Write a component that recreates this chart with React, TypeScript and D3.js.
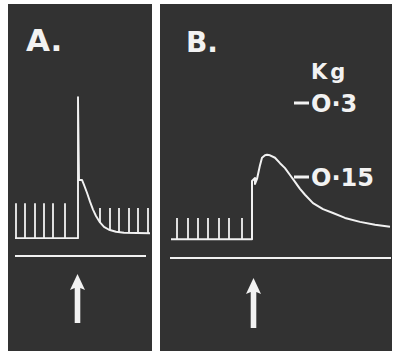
import React from "react";
import * as d3 from "d3";

// time in s, force in kg
const pulsesA = [0.2, 1.1, 2.1, 3.0, 3.9, 5.1];
const pulsesAPost = [8.6, 9.6, 10.5, 11.5, 12.4, 13.4];
const stimA = 6.4;
const traceA: [number, number][] = [
  [0.1, 0.026], [6.4, 0.026], [6.4, 0.312], [6.5, 0.144], [6.8, 0.144],
  [7.0, 0.134], [7.3, 0.118], [7.6, 0.100], [7.9, 0.084], [8.2, 0.071],
  [8.6, 0.058], [9.0, 0.049], [9.5, 0.043], [10.2, 0.039], [11.0, 0.037],
  [13.6, 0.036],
];

const pulsesB = [0.9, 2.0, 3.0, 4.0, 5.1, 6.1, 7.4];
const stimB = 8.4;
const traceB: [number, number][] = [
  [0.3, 0.024], [8.4, 0.024], [8.4, 0.142], [8.7, 0.148], [8.7, 0.136],
  [8.9, 0.146], [9.2, 0.174], [9.4, 0.189], [9.7, 0.194], [9.9, 0.195],
  [10.2, 0.194], [10.7, 0.189], [11.2, 0.178], [11.7, 0.168], [12.2, 0.154],
  [12.7, 0.140], [13.2, 0.126], [13.7, 0.114], [14.5, 0.097], [15.5, 0.085],
  [16.5, 0.077], [17.7, 0.067], [19.2, 0.059], [20.7, 0.053], [22.2, 0.049],
];

const pulseTopPre = 0.097;
const pulseTopPost = 0.087;
const pulseTopB = 0.067;
const kgTicks = [0.3, 0.15];
const kgTickLabels = ["O·3", "O·15"];

const W = 394;
const H = 354;
const BG = "#323232";
const FG = "#f2f2f2";
const FONT = "'DejaVu Sans', sans-serif";

const y = d3.scaleLinear().domain([0, 0.3]).range([251, 103]);
const xA = d3.scaleLinear().domain([0, 14]).range([14, 154]);
const xB = d3.scaleLinear().domain([0, 22.2]).range([168, 390]);

const line = (x: d3.ScaleLinear<number, number>) =>
  d3.line<[number, number]>().x((d) => x(d[0])).y((d) => y(d[1]));

// level of the trace at time t (after the stimulus)
const levelAt = (trace: [number, number][], t: number) => {
  for (let i = 1; i < trace.length; i++) {
    const [t0, v0] = trace[i - 1];
    const [t1, v1] = trace[i];
    if (t >= t0 && t <= t1 && t1 > t0) return v0 + ((t - t0) / (t1 - t0)) * (v1 - v0);
  }
  return trace[trace.length - 1][1];
};

const Arrow = ({ cx, top, bottom }: { cx: number; top: number; bottom: number }) => {
  const hw = 7.5, sw = 2.8, hh = 16;
  const d = `M${cx},${top} L${cx + hw},${top + hh} L${cx + sw},${top + hh - 2} L${cx + sw},${bottom} L${cx - sw},${bottom} L${cx - sw},${top + hh - 2} L${cx - hw},${top + hh} Z`;
  return <path d={d} fill={FG} />;
};

export default function App() {
  const postStart = traceA.findIndex((d) => d[0] > stimA);
  const decayA = traceA.slice(postStart);
  return (
    <svg
      width={W}
      height={H}
      style={{ position: "absolute", left: 0, top: 0, display: "block", background: "#fff" }}
    >
      {/* panel A */}
      <rect x={8} y={4} width={144} height={347} fill={BG} />
      <text x={26} y={51} fill={FG} fontFamily={FONT} fontWeight="bold" fontSize={31}>
        A.
      </text>
      <path d={line(xA)(traceA) ?? ""} fill="none" stroke={FG} strokeWidth={1.9} strokeLinejoin="round" />
      {pulsesA.map((t, i) => (
        <line key={i} x1={xA(t)} x2={xA(t)} y1={y(traceA[0][1])} y2={y(pulseTopPre)} stroke={FG} strokeWidth={1.8} />
      ))}
      {pulsesAPost.map((t, i) => (
        <line key={i} x1={xA(t)} x2={xA(t)} y1={y(levelAt(decayA, t))} y2={y(pulseTopPost)} stroke={FG} strokeWidth={1.8} />
      ))}
      <line x1={15} x2={146} y1={256} y2={256} stroke={FG} strokeWidth={1.8} />
      <Arrow cx={xA(stimA) - 0.5} top={274} bottom={323} />

      {/* panel B */}
      <rect x={160} y={4} width={232} height={347} fill={BG} />
      <text x={186} y={52} fill={FG} fontFamily={FONT} fontWeight="bold" fontSize={28}>
        B.
      </text>
      <text x={311} y={79} fill={FG} fontFamily={FONT} fontWeight="bold" fontSize={21} letterSpacing={3}>
        Kg
      </text>
      {kgTicks.map((v, i) => (
        <g key={v}>
          <line x1={294} x2={309} y1={y(v)} y2={y(v)} stroke={FG} strokeWidth={3} />
          <text x={311} y={y(v) + 9} fill={FG} fontFamily={FONT} fontWeight="bold" fontSize={24}>
            {kgTickLabels[i]}
          </text>
        </g>
      ))}
      <path d={line(xB)(traceB) ?? ""} fill="none" stroke={FG} strokeWidth={2} strokeLinejoin="round" />
      {pulsesB.map((t, i) => (
        <line key={i} x1={xB(t)} x2={xB(t)} y1={y(traceB[0][1])} y2={y(pulseTopB)} stroke={FG} strokeWidth={1.8} />
      ))}
      <line x1={170} x2={391} y1={258} y2={258} stroke={FG} strokeWidth={1.8} />
      <Arrow cx={xB(stimB) + 1.5} top={278} bottom={328} />
    </svg>
  );
}
